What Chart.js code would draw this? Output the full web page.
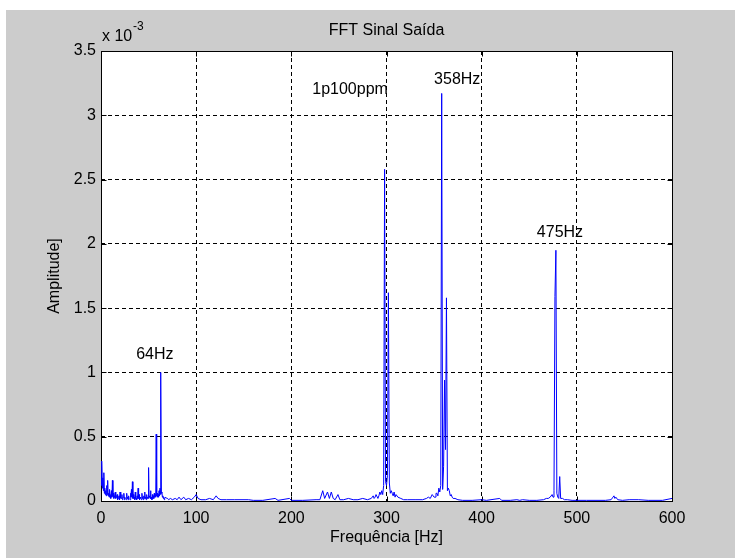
<!DOCTYPE html>
<html>
<head>
<meta charset="utf-8">
<script src="https://cdn.jsdelivr.net/npm/chart.js@4.4.0/dist/chart.umd.min.js"></script>
<style>
  html, body { margin: 0; padding: 0; background: #fff; }
  #frame { position: absolute; left: 6px; top: 10px; width: 729px; height: 548px; background: #cccccc; }
</style>
</head>
<body>
<div id="frame"><canvas id="fft" width="729" height="548"></canvas></div>
<script>
// spectrum, amplitude in units of 10^-3
const freqHz = [
    0, 0.5, 1, 1.5, 2, 2.5, 3, 3.5, 4, 4.5, 5, 5.5, 6, 6.5, 7, 7.5, 8, 8.5, 9, 9.5,
    10, 10.5, 11, 11.5, 12, 12.5, 13, 13.5, 14, 14.5, 15, 15.5, 16, 16.5, 17, 17.5, 18, 18.5, 19, 19.5,
    20, 20.5, 21, 21.5, 22, 22.5, 23, 23.5, 24, 24.5, 25, 25.5, 26, 26.5, 27, 27.5, 28, 28.5, 29, 29.5,
    30, 30.5, 31, 31.5, 32, 32.5, 33, 33.5, 34, 34.5, 35, 35.5, 36, 36.5, 37, 37.5, 38, 38.5, 39, 39.5,
    40, 40.5, 41, 41.5, 42, 42.5, 43, 43.5, 44, 44.5, 45, 45.5, 46, 46.5, 47, 47.5, 48, 48.5, 49, 49.5,
    50, 50.5, 51, 51.5, 52, 52.5, 53, 53.5, 54, 54.5, 55, 55.5, 56, 56.5, 57, 57.5, 58, 58.5, 59, 59.5,
    60, 60.5, 61, 61.5, 62, 62.5, 63, 63.5, 64, 64.5, 65, 65.5, 66, 66.5, 67, 68, 69, 70, 71, 73,
    75, 78, 80, 82, 84, 87, 89, 92, 95, 98, 100, 102, 105, 110, 114, 118, 121, 123, 126, 132,
    140, 155, 160, 170, 183, 186, 198, 200, 212, 226, 230, 233, 235, 238, 240, 242, 244, 246, 249, 251,
    255, 260, 265, 270, 275, 280, 284, 286, 287, 288, 289, 290, 291, 292, 293, 294, 295, 296, 297, 298,
    299, 300, 301, 302, 303, 304, 305, 306, 307, 308, 309, 310, 312, 315, 318, 322, 330, 338, 342, 344,
    346, 348, 349, 350, 351, 352, 353, 354, 355, 356, 357, 358, 359, 360, 361, 362, 363, 364, 365, 366,
    367, 368, 369, 370, 372, 375, 380, 390, 400, 405, 419, 421, 430, 437, 440, 443, 450, 458, 465, 468,
    470, 472, 474, 475, 476, 477, 478, 479, 480, 481, 482, 483, 485, 487, 490, 495, 510, 530, 536, 538,
    539, 540, 541, 543, 548, 555, 565, 575, 590, 600
];
const ampE3 = [
    0.22, 0.12, 0.31, 0.10, 0.18, 0.08, 0.22, 0.06, 0.10, 0.05, 0.08, 0.04, 0.12, 0.05, 0.16, 0.04, 0.06, 0.03, 0.09, 0.04,
    0.05, 0.02, 0.08, 0.03, 0.16, 0.04, 0.06, 0.02, 0.04, 0.03, 0.07, 0.02, 0.03, 0.04, 0.05, 0.01, 0.02, 0.03, 0.04, 0.01,
    0.07, 0.02, 0.03, 0.02, 0.05, 0.01, 0.02, 0.03, 0.06, 0.01, 0.03, 0.02, 0.02, 0.01, 0.06, 0.02, 0.03, 0.01, 0.04, 0.02,
    0.02, 0.01, 0.06, 0.03, 0.09, 0.03, 0.15, 0.02, 0.05, 0.02, 0.03, 0.01, 0.07, 0.02, 0.02, 0.01, 0.04, 0.02, 0.10, 0.02,
    0.05, 0.01, 0.03, 0.02, 0.02, 0.01, 0.06, 0.02, 0.03, 0.01, 0.04, 0.02, 0.07, 0.02, 0.03, 0.01, 0.05, 0.02, 0.03, 0.02,
    0.26, 0.03, 0.04, 0.02, 0.08, 0.02, 0.03, 0.01, 0.05, 0.02, 0.04, 0.02, 0.06, 0.03, 0.05, 0.03, 0.52, 0.04, 0.06, 0.03,
    0.05, 0.03, 0.08, 0.04, 0.10, 0.05, 1.00, 0.06, 0.07, 0.03, 0.04, 0.02, 0.03, 0.01, 0.02, 0.03, 0.02, 0.02, 0.01, 0.02,
    0.01, 0.02, 0.01, 0.03, 0.01, 0.03, 0.01, 0.02, 0.01, 0.03, 0.05, 0.02, 0.01, 0.01, 0.02, 0.01, 0.04, 0.02, 0.01, 0.01,
    0.01, 0.01, 0.005, 0.005, 0.02, 0.005, 0.02, 0.005, 0.005, 0.01, 0.01, 0.08, 0.02, 0.07, 0.02, 0.07, 0.02, 0.01, 0.05, 0.01,
    0.01, 0.02, 0.01, 0.01, 0.02, 0.01, 0.02, 0.04, 0.02, 0.03, 0.05, 0.05, 0.02, 0.04, 0.07, 0.05, 0.08, 0.05, 0.12, 2.58,
    0.15, 0.12, 0.20, 1.62, 0.14, 0.06, 0.08, 0.06, 0.04, 0.07, 0.03, 0.05, 0.03, 0.02, 0.01, 0.01, 0.01, 0.01, 0.02, 0.03,
    0.02, 0.05, 0.04, 0.03, 0.03, 0.06, 0.06, 0.04, 0.10, 0.07, 0.12, 3.17, 0.09, 0.27, 0.94, 0.40, 1.58, 0.08, 0.10, 0.08,
    0.04, 0.05, 0.03, 0.02, 0.02, 0.01, 0.005, 0.005, 0.01, 0.005, 0.02, 0.005, 0.005, 0.01, 0.005, 0.01, 0.005, 0.005, 0.01, 0.02,
    0.02, 0.03, 0.05, 0.03, 0.08, 1.59, 1.95, 0.06, 0.03, 0.02, 0.19, 0.02, 0.02, 0.01, 0.01, 0.005, 0.005, 0.005, 0.01, 0.03,
    0.04, 0.02, 0.03, 0.01, 0.005, 0.01, 0.01, 0.005, 0.005, 0.02
];

const xTicks = [0, 100, 200, 300, 400, 500, 600];
const yTicks = [0, 0.5, 1, 1.5, 2, 2.5, 3, 3.5];
const yTickLabels = ["0", "0.5", "1", "1.5", "2", "2.5", "3", "3.5"];

const annoLabels = ["64Hz", "1p100ppm", "358Hz", "475Hz"];
const annoFreq = [37, 222, 350, 458];
const annoAmp = [1.14, 3.2, 3.28, 2.09];

const FONT = "'Liberation Sans', Arial, sans-serif";

const matlabAxes = {
    id: "matlabAxes",
    beforeDraw(chart) {
        const { ctx, chartArea: a } = chart;
        ctx.save();
        ctx.fillStyle = "#ffffff";
        ctx.fillRect(a.left, a.top, a.right - a.left, a.bottom - a.top);
        ctx.restore();
    },
    beforeDatasetsDraw(chart) {
        const { ctx, chartArea: a, scales } = chart;
        const L = Math.round(a.left) + 0.5, R = Math.round(a.right) + 0.5;
        const T = Math.round(a.top) + 0.5, B = Math.round(a.bottom) + 0.5;
        ctx.save();
        ctx.strokeStyle = "#000";
        ctx.lineWidth = 1;
        ctx.setLineDash([]);
        ctx.strokeRect(L, T, R - L, B - T);
        ctx.beginPath();
        xTicks.forEach(v => {
            const x = Math.round(scales.x.getPixelForValue(v)) + 0.5;
            ctx.moveTo(x, B); ctx.lineTo(x, B - 5);
            ctx.moveTo(x, T); ctx.lineTo(x, T + 5);
        });
        yTicks.forEach(v => {
            const y = Math.round(scales.y.getPixelForValue(v)) + 0.5;
            ctx.moveTo(L, y); ctx.lineTo(L + 5, y);
            ctx.moveTo(R, y); ctx.lineTo(R - 5, y);
        });
        ctx.stroke();
        ctx.restore();
    },
    afterDraw(chart) {
        const { ctx, chartArea: a, scales } = chart;
        const cx = (a.left + a.right) / 2;
        ctx.save();
        ctx.fillStyle = "#000";
        ctx.font = "16px " + FONT;
        ctx.textBaseline = "middle";

        ctx.textAlign = "center";
        ctx.fillText("FFT Sinal Saída", cx, 21);
        ctx.fillText("Frequência [Hz]", cx, 528);

        ctx.textAlign = "left";
        ctx.fillText("x 10", 96, 27);
        ctx.font = "12px " + FONT;
        ctx.fillText("-3", 127, 17);

        ctx.font = "16px " + FONT;
        annoLabels.forEach((t, i) => {
            ctx.fillText(t, scales.x.getPixelForValue(annoFreq[i]), scales.y.getPixelForValue(annoAmp[i]));
        });

        ctx.translate(49, (a.top + a.bottom) / 2);
        ctx.rotate(-Math.PI / 2);
        ctx.textAlign = "center";
        ctx.fillText("Amplitude]", 0, 0);
        ctx.restore();
    }
};

const edgeHidden = (vals) => (c) =>
    (c.tick && (c.tick.value === vals[0] || c.tick.value === vals[vals.length - 1])) ? "rgba(0,0,0,0)" : "#000";

new Chart(document.getElementById("fft"), {
    type: "line",
    data: {
        datasets: [{
            data: freqHz.map((f, i) => ({ x: f, y: ampE3[i] })),
            borderColor: "#0000ff",
            borderWidth: 1,
            pointRadius: 0,
            tension: 0,
            fill: false
        }]
    },
    options: {
        responsive: false,
        animation: false,
        devicePixelRatio: 1,
        layout: { padding: { left: 0, top: 41, right: 63, bottom: 0 } },
        plugins: { legend: { display: false }, title: { display: false }, tooltip: { enabled: false } },
        scales: {
            x: {
                type: "linear",
                min: 0,
                max: 600,
                afterBuildTicks: s => { s.ticks = xTicks.map(v => ({ value: v })); },
                afterFit: s => { s.height = 57; },
                grid: { color: edgeHidden(xTicks), lineWidth: 1, drawTicks: false },
                border: { display: false, dash: [4, 3] },
                ticks: { padding: 8, color: "#000", font: { family: FONT, size: 16 }, maxRotation: 0 }
            },
            y: {
                min: 0,
                max: 3.5,
                afterBuildTicks: s => { s.ticks = yTicks.map(v => ({ value: v })); },
                afterFit: s => { s.width = 95; },
                grid: { color: edgeHidden(yTicks), lineWidth: 1, drawTicks: false },
                border: { display: false, dash: [4, 3] },
                ticks: {
                    padding: 5,
                    color: "#000",
                    font: { family: FONT, size: 16 },
                    callback: (v, i) => yTickLabels[i]
                }
            }
        }
    },
    plugins: [matlabAxes]
});
</script>
</body>
</html>
